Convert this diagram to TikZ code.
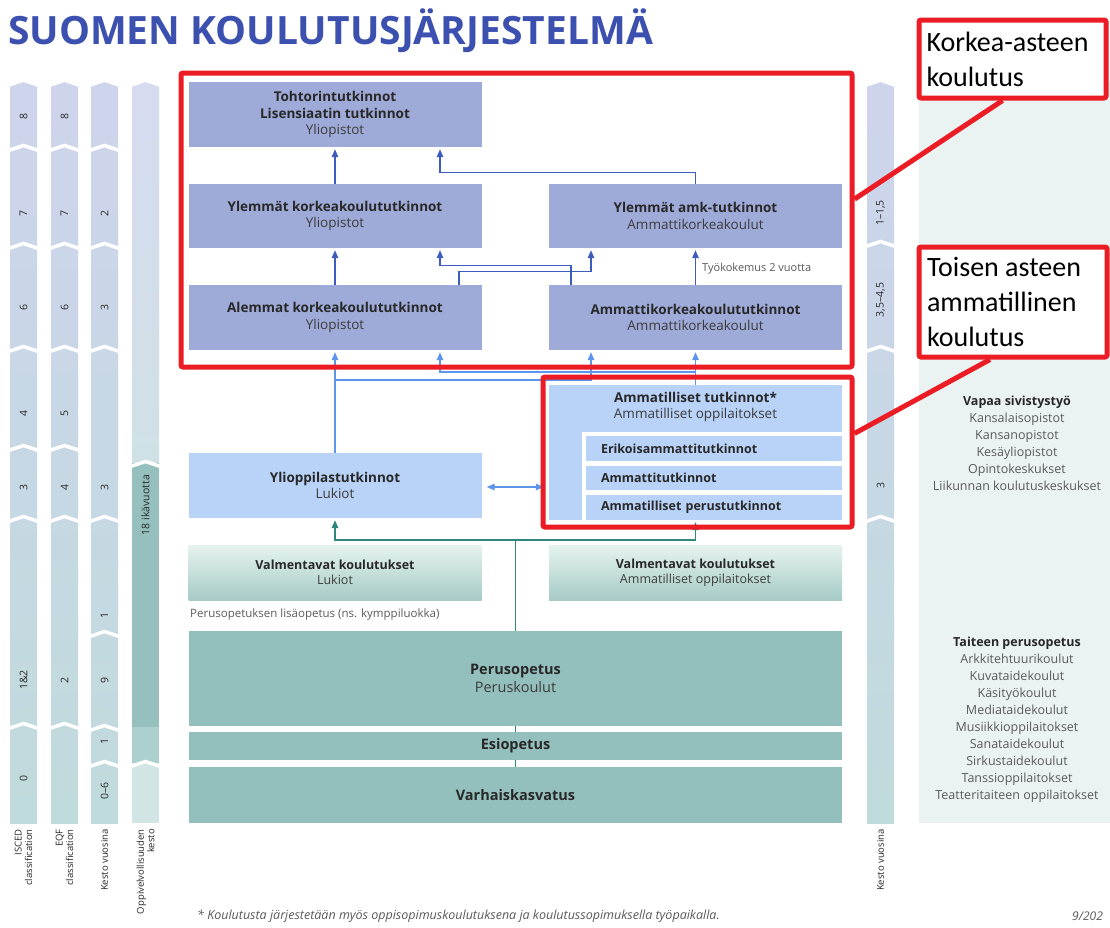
\documentclass[tikz,border=0pt]{standalone}
\usepackage{fontspec}
\setmainfont{Open Sans}
\newfontfamily\calib{Carlito}
\usetikzlibrary{arrows.meta,calc}
\definecolor{titleblue}{RGB}{60,80,176}
\definecolor{lav}{RGB}{158,170,216}
\definecolor{lblue}{RGB}{184,210,248}
\definecolor{tealc}{RGB}{147,191,188}
\definecolor{vtop}{RGB}{230,243,238}
\definecolor{vbot}{RGB}{166,203,199}
\definecolor{dblue}{RGB}{62,92,190}
\definecolor{mblue}{RGB}{92,150,236}
\definecolor{tline}{RGB}{47,135,124}
\definecolor{redb}{RGB}{236,28,36}
\definecolor{coltop}{RGB}{206,212,236}
\definecolor{colbot}{RGB}{192,219,220}
\definecolor{txt}{RGB}{40,40,40}
\definecolor{sub}{RGB}{60,60,60}
\definecolor{gtxt}{RGB}{90,90,90}
\definecolor{panel}{RGB}{234,242,242}
\definecolor{cfourtop}{RGB}{214,219,240}
\definecolor{cfourmid}{RGB}{208,225,230}
\definecolor{cfourdark}{RGB}{150,192,190}
\definecolor{cfourmed}{RGB}{172,208,205}
\definecolor{cfourlight}{RGB}{210,229,229}
\newcommand\chevsep[3]{\draw[white,line width=3.5pt] (#1-3,#3+4) -- ({(#1+#2)/2},#3-1.5) -- (#2+3,#3+4);}
\newcommand\chevtop[3]{\fill[white] (#1-1,#3-4) -- (#1-1,#3+5) -- ({(#1+#2)/2},#3) -- (#2+1,#3+5) -- (#2+1,#3-4) -- cycle;}
\begin{document}
\begin{tikzpicture}[x=1pt,y=-1pt,
 box/.style={inner sep=0pt, align=center, text=txt, font=\fontsize{13.5}{16.5}\selectfont},
 lavbox/.style={box, fill=lav},
 lbbox/.style={box, fill=lblue},
 tealbox/.style={box, fill=tealc, font=\fontsize{14.5}{18}\selectfont},
 valbox/.style={box, top color=vtop, bottom color=vbot, font=\fontsize{12.5}{15}\selectfont},
 subbox/.style={box, fill=lblue, text width=226pt, align=left, inner xsep=15pt, minimum height=25pt, font=\fontsize{12.5}{15}\selectfont\bfseries},
 darr/.style={draw=dblue, line width=1.3pt, -{Triangle[length=8pt,width=6.5pt]}, shorten >=2pt},
 larr/.style={draw=mblue, line width=1.3pt, -{Triangle[length=8pt,width=6.5pt]}, shorten >=2pt},
 tarr/.style={draw=tline, line width=1.5pt, -{Triangle[length=8pt,width=6.5pt]}, shorten >=2pt},
 redbox/.style={draw=redb, line width=5pt, rounded corners=2pt, inner sep=0pt},
 redlab/.style={redbox, fill=white, align=flush left, text=black, text width=172pt, font=\calib\fontsize{28}{35}\selectfont},
 num/.style={rotate=90, font=\fontsize{10.5}{11}\selectfont, text=txt, inner sep=0pt},
 clab/.style={rotate=90, anchor=east, align=right, font=\fontsize{9.5}{10.5}\selectfont, text=txt, inner sep=0pt},
 side/.style={align=center, text=gtxt, font=\fontsize{12.5}{17}\selectfont},
]
\useasboundingbox[fill=white] (0,0) rectangle (1110,927);

% title
\node[anchor=west, inner sep=0pt, text=titleblue, font=\fontsize{39}{39}\selectfont\bfseries] (title) at (8,31) {SUOMEN KOULUTUSJÄRJESTELMÄ};

% right panel
\fill[panel] (919,82) rectangle (1110,823);

% left columns
\foreach \x in {10,51,91,867} {\shade[top color=coltop, bottom color=colbot] (\x,82) rectangle (\x+27,823);}
\shade[top color=cfourtop, bottom color=cfourmid] (132,82) rectangle (159,465);
\fill[cfourdark] (132,463) rectangle (159,727);
\fill[cfourmed] (132,727) rectangle (159,763);
\fill[cfourlight] (132,763) rectangle (159,823);
\foreach \x in {10,51,91,132,867} {\chevtop{\x}{\x+27}{82}}
\foreach \y in {147,245,348,447,518,725} {\chevsep{10}{37}{\y}\chevsep{51}{78}{\y}}
\foreach \y in {147,245,348,518,633,727,763} {\chevsep{91}{118}{\y}}
\foreach \y in {463,763} {\chevsep{132}{159}{\y}}
\foreach \y in {243,348,518} {\chevsep{867}{894}{\y}}

% column numbers
\node[num] (a1) at (23.5,116) {8};
\node[num] (a2) at (23.5,213) {7};
\node[num] (a3) at (23.5,307) {6};
\node[num] (a4) at (23.5,413) {4};
\node[num] (a5) at (23.5,487) {3};
\node[num] (a6) at (23.5,680) {1\&2};
\node[num] (a7) at (23.5,778) {0};
\node[num] (b1) at (64.5,116) {8};
\node[num] (b2) at (64.5,213) {7};
\node[num] (b3) at (64.5,307) {6};
\node[num] (b4) at (64.5,413) {5};
\node[num] (b5) at (64.5,487) {4};
\node[num] (b6) at (64.5,680) {2};
\node[num] (c2) at (104.5,213) {2};
\node[num] (c3) at (104.5,307) {3};
\node[num] (c5) at (104.5,487) {3};
\node[num] (c6) at (104.5,615) {1};
\node[num] (c7) at (104.5,680) {9};
\node[num] (c8) at (104.5,741) {1};
\node[num] (c9) at (104.5,791) {0–6};
\node[num] (d1) at (145.5,505) {18 ikävuotta};
\node[num] (e1) at (880.5,213) {1–1,5};
\node[num] (e2) at (880.5,300) {3,5–4,5};
\node[num] (e3) at (880.5,485) {3};

% column labels
\node[clab] (la) at (23.5,829) {ISCED\\classification};
\node[clab] (lb) at (64.5,829) {EQF\\classification};
\node[clab] (lc) at (104.5,829) {Kesto vuosina};
\node[clab] (ld) at (145.5,829) {Oppivelvollisuuden\\kesto};
\node[clab] (le) at (880.5,829) {Kesto vuosina};

% teal trunk (behind boxes)
\coordinate (tj) at (515.5,540);

% boxes
\node[lavbox, minimum width=293pt, minimum height=65pt] (toh) at (335,114.5) {\textbf{Tohtorintutkinnot}\\\textbf{Lisensiaatin tutkinnot}\\\textcolor{sub}{Yliopistot}};
\node[lavbox, minimum width=293pt, minimum height=64pt] (ykk) at (335,216) {\textbf{Ylemmät korkeakoulututkinnot}\\\textcolor{sub}{Yliopistot}};
\node[lavbox, minimum width=293pt, minimum height=64pt] (yamk) at (695.5,216) {\textbf{Ylemmät amk-tutkinnot}\\\textcolor{sub}{Ammattikorkeakoulut}};
\node[lavbox, minimum width=293pt, minimum height=65pt] (akk) at (335,317.5) {\textbf{Alemmat korkeakoulututkinnot}\\\textcolor{sub}{Yliopistot}};
\node[lavbox, minimum width=293pt, minimum height=65pt] (amk) at (695.5,317.5) {\textbf{Ammattikorkeakoulututkinnot}\\\textcolor{sub}{Ammattikorkeakoulut}};
\node[lbbox, minimum width=293pt, minimum height=65pt] (ylio) at (335,485.5) {\textbf{Ylioppilastutkinnot}\\\textcolor{sub}{Lukiot}};
\node[lbbox, minimum width=293pt, minimum height=135pt] (amtut) at (695.5,452.5) {};
\fill[white] (582,432) rectangle (842,520);
\node[box, anchor=north] (amtxt) at (695.5,392) {\textbf{Ammatilliset tutkinnot*}\\\textcolor{sub}{Ammatilliset oppilaitokset}};
\node[subbox] (eri) at (714,448.5) {Erikoisammattitutkinnot};
\node[subbox, minimum height=24pt] (att) at (714,478) {Ammattitutkinnot};
\node[subbox] (ap) at (714,507.5) {Ammatilliset perustutkinnot};

\draw[tline, line width=1.5pt] (515.5,767) -- (tj);
\node[valbox, minimum width=293pt, minimum height=55pt] (val1) at (335,572.5) {\textbf{Valmentavat koulutukset}\\\textcolor{sub}{Lukiot}};
\node[valbox, minimum width=293pt, minimum height=55pt] (val2) at (695.5,572.5) {\textbf{Valmentavat koulutukset}\\\textcolor{sub}{Ammatilliset oppilaitokset}};
\node[anchor=west, inner sep=0pt, text=gtxt, font=\fontsize{11.5}{14}\selectfont] (lisa) at (190,615) {Perusopetuksen lisäopetus (ns. kymppiluokka)};
\node[tealbox, minimum width=653pt, minimum height=95pt] (perus) at (515.5,678.5) {\textbf{Perusopetus}\\\textcolor{sub}{Peruskoulut}};
\node[tealbox, minimum width=653pt, minimum height=28pt] (esi) at (515.5,746) {\textbf{Esiopetus}};
\node[tealbox, minimum width=653pt, minimum height=56pt] (varh) at (515.5,795) {\textbf{Varhaiskasvatus}};

% teal arrows
\draw[tarr] (tj) -| (ylio.south);
\draw[tarr] (tj) -| (amtut.south);

% dark blue arrows
\draw[darr] (ykk.north) -- (toh.south);
\draw[darr] (yamk.north) -- ++(0,-11) -| ($(toh.south)+(105,0)$);
\draw[darr] (akk.north) -- (ykk.south);
\draw[darr] ($(amk.north)+(-124.5,0)$) -- ++(0,-19) -| ($(ykk.south)+(105,0)$);
\draw[darr] ($(akk.north)+(124,0)$) -- ++(0,-13) -| ($(yamk.south)+(-104.5,0)$);
\draw[darr] (amk.north) -- (yamk.south);
\node[anchor=west, inner sep=0pt, text=gtxt, font=\fontsize{11}{14}\selectfont] (tyo) at (702,269) {Työkokemus 2 vuotta};

% light blue arrows
\coordinate (j1) at (335,380);
\coordinate (j2) at (695.5,372);
\draw[larr] (ylio.north) -- (akk.south);
\draw[larr] (j1) -| ($(amk.south)+(-104.5,0)$);
\draw[larr] (amtut.north) -- (amk.south);
\draw[larr] (j2) -| ($(akk.south)+(105,0)$);
\draw[draw=mblue, line width=1.3pt, {Triangle[length=8pt,width=6.5pt]}-{Triangle[length=8pt,width=6.5pt]}, shorten >=5pt, shorten <=5pt] ($(ylio.east)+(0,1.5)$) -- ($(ylio.east -| amtut.west)+(0,1.5)$);

% red highlight boxes
\node[redbox, minimum width=671pt, minimum height=294pt] (r1) at (516.5,220) {};
\node[redbox, minimum width=309pt, minimum height=150pt] (r2) at (697.5,452) {};
\node[redlab, minimum width=187pt, minimum height=78pt] (l1) at (1012.5,59) {Korkea-asteen\\koulutus};
\node[redlab, minimum width=188pt, minimum height=110pt] (l2) at (1013,302) {Toisen asteen\\ammatillinen\\koulutus};
\draw[redb, line width=5pt] ($(r1.north east)!0.43!(r1.south east)$) -- ($(l1.south)+(-10,0)$);
\draw[redb, line width=5pt] ($(r2.north east)!0.38!(r2.south east)$) -- ($(l2.south)+(-23,0)$);

% side texts
\node[side] (vapaa) at (1017,443) {\textcolor{txt}{\textbf{Vapaa sivistystyö}}\\Kansalaisopistot\\Kansanopistot\\Kesäyliopistot\\Opintokeskukset\\Liikunnan koulutuskeskukset};
\node[side] (taide) at (1017,720) {\textcolor{txt}{\textbf{Taiteen perusopetus}}\\Arkkitehtuurikoulut\\Kuvataidekoulut\\Käsityökoulut\\Mediataidekoulut\\Musiikkioppilaitokset\\Sanataidekoulut\\Sirkustaidekoulut\\Tanssioppilaitokset\\Teatteritaiteen oppilaitokset};

% footer
\node[anchor=west, inner sep=0pt, text=gtxt, font=\fontsize{12.5}{14}\selectfont\itshape] (foot) at (197,916) {* Koulutusta järjestetään myös oppisopimuskoulutuksena ja koulutussopimuksella työpaikalla.};
\node[anchor=west, inner sep=0pt, text=gtxt, font=\fontsize{12}{14}\selectfont\itshape] (page) at (1072,916) {9/202};
\end{tikzpicture}
\end{document}
